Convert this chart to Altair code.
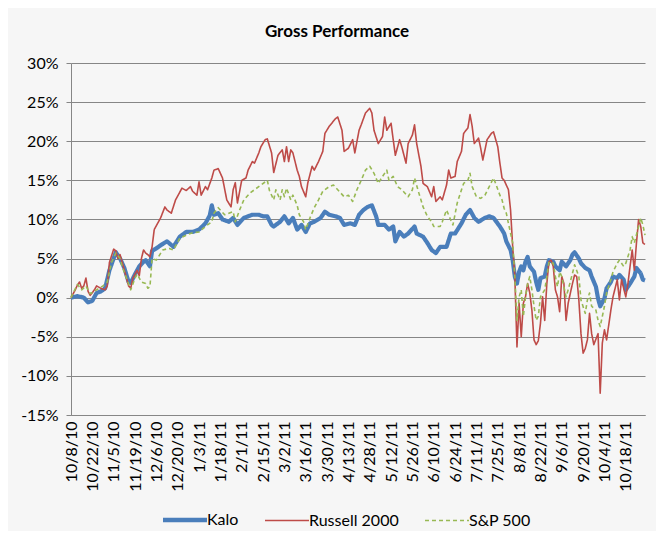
import altair as alt
import pandas as pd

# x tick labels (every 10 trading days, trading-day index 0..269)
tick_labels = ["10/8/10", "10/22/10", "11/5/10", "11/19/10", "12/6/10", "12/20/10",
               "1/3/11", "1/18/11", "2/1/11", "2/15/11", "3/2/11", "3/16/11", "3/30/11",
               "4/13/11", "4/28/11", "5/12/11", "5/26/11", "6/10/11", "6/24/11", "7/11/11",
               "7/25/11", "8/8/11", "8/22/11", "9/6/11", "9/20/11", "10/4/11", "10/18/11"]

series_names = ["Kalo", "Russell 2000", "S&P 500"]

# (trading-day index, cumulative gross performance in %)
kalo = [(0,0.0),(3,0.2),(6,0.0),(8,-0.6),(10,-0.4),(12,0.6),(14,0.8),(16,1.2),(18,3.5),(21,5.8),
        (23,5.0),(25,3.8),(27,2.0),(28,1.9),(30,3.0),(32,4.0),(34,4.6),(35,4.8),(37,4.0),(38,6.0),
        (40,6.3),(42,6.7),(45,7.2),(48,6.5),(51,7.8),(54,8.4),(57,8.4),(60,8.7),(63,9.5),(65,10.5),
        (66,11.8),(67,10.6),(69,10.8),(71,10.0),(74,9.7),(76,10.2),(78,9.3),(81,10.2),(83,10.4),
        (85,10.6),(88,10.6),(90,10.4),(92,10.4),(94,9.3),(95,9.1),(98,9.7),(100,10.4),(102,9.5),
        (104,10.2),(106,8.7),(108,9.3),(110,8.4),(112,9.5),(114,9.7),(117,10.2),(119,11.0),
        (121,10.6),(124,10.4),(126,10.2),(128,9.3),(131,9.5),(133,9.3),(135,10.6),(137,11.2),
        (139,11.6),(141,11.8),(143,10.4),(144,9.3),(147,9.3),(149,8.7),(151,9.1),(152,7.2),
        (154,8.4),(156,7.8),(158,8.2),(161,9.1),(162,8.2),(165,7.8),(167,7.0),(169,6.1),(171,5.7),
        (173,6.5),(176,6.5),(178,8.2),(180,8.2),(183,9.5),(185,10.6),(187,11.2),(189,10.2),
        (191,9.7),(194,10.2),(196,10.4),(198,10.2),(201,9.1),(203,8.2),(204,7.2),(206,6.1),
        (207,4.8),(208,2.7),(209,1.8),(210,3.3),(211,4.0),(212,3.5),(213,4.6),(214,5.2),(215,4.0),
        (217,3.3),(218,2.0),(219,1.0),(220,2.5),(222,2.7),(223,4.0),(224,4.8),(226,4.6),(227,4.0),
        (229,3.5),(230,4.6),(232,4.0),(234,4.8),(235,5.5),(236,5.8),(238,5.0),(239,4.4),(241,3.8),
        (243,3.5),(244,2.7),(246,1.4),(247,-0.1),(248,-1.1),(250,-0.1),(251,1.2),(253,2.0),
        (254,2.7),(256,2.5),(257,2.9),(259,2.3),(260,1.0),(262,1.8),(264,2.7),(265,3.8),(267,3.1),
        (268,2.3),(269,2.2)]

russell = [(0,0.0),(2,1.0),(3,1.6),(4,2.0),(5,1.2),(6,1.5),(7,2.5),(8,0.8),(9,0.3),(11,1.0),
           (12,1.5),(14,1.2),(16,1.0),(17,1.5),(18,4.5),(20,6.2),(21,6.0),(22,5.0),(23,5.5),
           (24,4.5),(25,3.5),(26,2.5),(27,1.5),(28,1.2),(29,2.5),(30,3.0),(31,3.5),(32,2.8),
           (33,5.0),(34,6.1),(35,5.7),(36,5.5),(37,5.2),(38,6.5),(39,8.7),(41,9.7),(42,10.2),
           (44,11.6),(45,11.2),(47,10.8),(49,12.5),(52,14.0),(54,13.7),(56,14.2),(57,13.6),
           (59,13.1),(60,14.8),(61,13.1),(63,14.2),(64,13.8),(66,15.3),(67,16.3),(69,16.5),
           (71,15.3),(73,12.5),(75,11.6),(76,13.8),(77,14.7),(78,12.1),(80,15.0),(82,15.3),
           (83,16.3),(85,17.4),(86,17.2),(88,18.5),(89,19.3),(91,20.2),(92,20.3),(94,18.5),
           (95,16.0),(97,18.2),(99,18.9),(100,17.4),(101,19.3),(102,17.4),(103,18.9),(104,18.5),
           (106,16.3),(107,15.5),(108,14.2),(110,12.9),(111,14.7),(113,16.8),(114,16.3),(116,17.4),
           (118,18.7),(119,21.0),(121,21.9),(124,22.9),(125,23.1),(127,21.4),(128,18.7),(130,19.1),
           (132,20.2),(133,18.5),(135,21.4),(136,22.1),(138,23.6),(140,24.2),(141,23.6),(142,21.4),
           (144,19.7),(146,20.6),(147,23.1),(148,21.4),(150,22.3),(151,20.2),(152,18.2),(154,20.2),
           (155,19.3),(157,17.2),(158,19.7),(160,20.8),(161,22.1),(162,19.7),(164,16.8),(165,14.6),
           (167,14.2),(169,12.9),(170,14.2),(171,12.3),(173,12.9),(174,12.5),(176,14.4),(177,16.3),
           (178,15.3),(180,15.5),(181,17.4),(183,18.7),(184,21.0),(186,21.7),(187,23.4),(188,21.9),
           (189,19.7),(191,20.4),(192,19.1),(193,17.6),(195,20.2),(197,21.0),(198,21.2),(200,19.3),
           (201,17.2),(202,15.3),(203,15.0),(205,13.8),(206,11.2),(207,6.5),(208,2.7),(209,-6.3),
           (210,-0.7),(211,-5.0),(212,-0.7),(213,0.1),(214,1.8),(215,0.6),(216,-1.6),(217,-5.4),
           (218,-6.0),(219,-5.5),(220,-3.3),(221,0.1),(222,-2.9),(223,1.8),(224,4.6),(225,4.8),
           (226,4.0),(227,1.0),(228,0.1),(229,-1.8),(230,2.7),(231,1.8),(232,-2.9),(233,-0.7),
           (235,1.8),(236,2.9),(237,2.7),(238,-0.3),(239,-4.6),(240,-7.1),(241,-6.5),(242,-5.4),
           (243,-2.0),(244,-4.6),(245,-6.0),(247,-4.6),(248,-12.2),(249,-5.8),(250,-4.1),(251,-5.4),
           (253,-1.6),(254,0.1),(256,2.3),(257,-0.3),(258,2.3),(260,0.1),(261,1.8),(262,4.0),
           (263,6.1),(264,3.5),(265,7.0),(266,10.0),(267,9.1),(268,7.0),(269,6.8)]

sp500 = [(0,0.0),(3,1.7),(5,1.0),(7,1.5),(9,0.5),(12,1.0),(15,1.5),(17,2.0),(19,4.5),(21,5.7),
         (23,5.0),(24,4.0),(26,2.5),(28,1.0),(30,2.5),(31,3.0),(33,2.0),(35,1.8),(36,1.2),(37,1.4),
         (38,5.0),(40,4.8),(43,6.1),(46,6.3),(48,6.1),(51,7.6),(54,8.0),(57,8.3),(60,8.4),(63,9.1),
         (66,9.7),(67,10.8),(69,11.5),(72,10.6),(74,10.8),(76,11.0),(77,9.7),(79,11.2),(81,12.5),
         (84,13.4),(86,13.8),(89,14.4),(91,14.8),(92,15.0),(93,13.7),(95,12.5),(96,13.8),(98,12.5),
         (99,13.8),(100,12.9),(101,14.0),(103,12.5),(104,13.1),(106,11.8),(107,10.6),(109,9.7),
         (110,8.7),(112,10.2),(114,11.5),(116,12.5),(118,13.6),(121,14.2),(123,14.4),(125,13.8),
         (128,12.9),(130,13.1),(132,12.3),(134,13.8),(136,15.0),(138,16.3),(140,16.8),(142,15.9),
         (144,14.6),(146,15.5),(148,16.3),(149,15.0),(151,15.5),(153,14.2),(155,13.8),(158,12.9),
         (160,13.8),(161,15.3),(163,13.4),(165,11.6),(167,10.4),(169,9.7),(170,9.1),(173,9.1),
         (174,9.7),(176,11.2),(178,9.9),(179,9.3),(181,12.1),(183,13.8),(184,14.6),(186,15.0),
         (187,15.9),(188,14.2),(190,12.9),(192,12.7),(194,13.1),(196,14.2),(198,15.3),(199,14.6),
         (201,13.1),(202,12.5),(203,11.4),(204,10.8),(205,9.5),(207,7.0),(208,2.7),(209,-2.9),
         (210,0.1),(211,1.0),(212,-2.4),(213,0.1),(214,1.8),(215,2.7),(216,1.0),(217,-1.1),
         (218,-2.9),(219,-2.4),(220,0.1),(222,1.0),(223,2.7),(224,4.6),(226,4.4),(227,2.7),
         (228,1.4),(229,3.3),(230,2.7),(232,0.1),(233,1.0),(235,3.1),(236,4.2),(238,2.7),
         (239,-0.3),(241,-2.0),(242,-0.3),(243,0.6),(244,-1.1),(246,-1.6),(247,-2.9),(248,-3.7),
         (250,-1.1),(251,0.6),(253,2.3),(254,3.3),(256,4.4),(257,4.8),(259,4.0),(260,4.4),
         (262,6.1),(263,7.8),(264,7.0),(266,9.1),(267,10.2),(268,9.3),(269,8.0)]

colors = ["#4A7EBB", "#BE4B48", "#98B954"]
dashes = [[1, 0], [1, 0], [4, 3]]

rows = []
for name, pts in zip(series_names, [kalo, russell, sp500]):
    for d, v in pts:
        rows.append({"series": name, "day": d, "pct": v})
df = pd.DataFrame(rows)

label_array = "[" + ",".join("'" + t + "'" for t in tick_labels) + "]"

FONT = "Lato"

chart = alt.Chart(df).mark_line(strokeJoin="round").encode(
    x=alt.X("day:Q",
            scale=alt.Scale(domain=[0, 269], nice=False, zero=False),
            axis=alt.Axis(values=list(range(0, 261, 10)),
                          labelExpr=label_array + "[round(datum.value/10)]",
                          labelAngle=270, labelFont=FONT, labelFontSize=16,
                          labelColor="#000", labelPadding=6, ticks=False,
                          grid=False, domainColor="#868686", title=None,
                          labelOverlap=False)),
    y=alt.Y("pct:Q",
            scale=alt.Scale(domain=[-15, 30], nice=False),
            axis=alt.Axis(values=list(range(-15, 31, 5)),
                          labelExpr="datum.value + '%'",
                          labelFont=FONT, labelFontSize=16, labelColor="#000",
                          tickSize=5, tickColor="#868686", labelPadding=8,
                          grid=True, gridColor="#868686", gridWidth=1,
                          domainColor="#868686", title=None)),
    color=alt.Color("series:N", title=None,
                    scale=alt.Scale(domain=series_names, range=colors),
                    legend=alt.Legend(symbolStrokeWidth=alt.ExprRef(
                        "datum.label == 'Kalo' ? 4.5 : 1.6"))),
    strokeDash=alt.StrokeDash("series:N", title=None,
                              scale=alt.Scale(domain=series_names, range=dashes)),
    strokeWidth=alt.condition(alt.datum.series == "Kalo", alt.value(4.2), alt.value(1.6)),
    detail="series:N",
).properties(
    width=574,
    height=352,
    title=alt.TitleParams("Gross Performance", font=FONT, fontSize=17,
                          fontWeight="bold", color="#000", anchor="middle",
                          dx=-21, offset=14),
    background="#f6f6f6",
    padding={"left": 63, "top": 55, "right": 11, "bottom": 116},
    autosize=alt.AutoSizeParams(type="none"),
).configure_view(
    stroke="transparent"
).configure_legend(
    orient="none", legendX=106, legendY=449, direction="horizontal",
    symbolType="stroke", symbolSize=1936, labelFont=FONT, labelFontSize=16,
    labelColor="#000", columnPadding=22, labelOffset=14
)

chart.save("out.html", embed_options={"renderer": "svg", "actions": False})
